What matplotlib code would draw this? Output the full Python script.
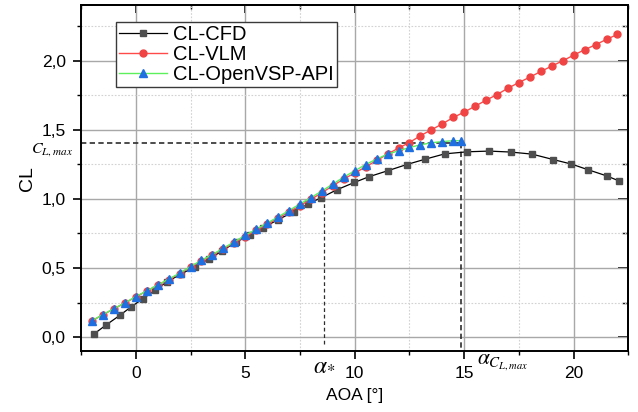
import matplotlib
matplotlib.use("Agg")
import matplotlib.pyplot as plt
from matplotlib.ticker import MultipleLocator, FuncFormatter

# Lift coefficient vs angle of attack
aoa_cfd = [-1.92, -1.35, -0.72, -0.20, 0.32, 0.87, 1.42, 2.05, 2.70, 3.35, 3.95,
           4.57, 5.22, 5.81, 6.50, 7.23, 7.85, 8.48, 9.18, 9.98, 10.64, 11.53,
           12.38, 13.23, 14.11, 15.15, 16.14, 17.13, 18.10, 19.06, 19.90, 20.66,
           21.50, 22.06]
cl_cfd = [0.022, 0.089, 0.159, 0.221, 0.277, 0.338, 0.400, 0.455, 0.510, 0.565, 0.625,
          0.687, 0.740, 0.791, 0.850, 0.909, 0.962, 1.010, 1.066, 1.119, 1.160, 1.205,
          1.249, 1.288, 1.326, 1.341, 1.346, 1.339, 1.324, 1.285, 1.252, 1.211,
          1.167, 1.131]

aoa_vlm = [-2.0, -1.5, -1.0, -0.5, 0.0, 0.5, 1.0, 1.5, 2.0, 2.5, 3.0, 3.5, 4.0, 4.5,
           5.0, 5.5, 6.0, 6.5, 7.0, 7.5, 8.0, 8.5, 9.0, 9.5, 10.0, 10.5, 11.0, 11.5,
           12.0, 12.5, 13.0, 13.5, 14.0, 14.5, 15.0, 15.5, 16.0, 16.5, 17.0, 17.5,
           18.0, 18.5, 19.0, 19.5, 20.0, 20.5, 21.0, 21.5, 22.0]
cl_vlm = [0.118, 0.162, 0.205, 0.246, 0.291, 0.333, 0.375, 0.417, 0.459, 0.506, 0.551,
          0.593, 0.638, 0.683, 0.728, 0.773, 0.816, 0.861, 0.905, 0.952, 0.997, 1.045,
          1.095, 1.145, 1.187, 1.232, 1.278, 1.324, 1.368, 1.408, 1.457, 1.500, 1.543,
          1.589, 1.628, 1.671, 1.714, 1.755, 1.801, 1.842, 1.881, 1.922, 1.961, 1.999,
          2.040, 2.079, 2.115, 2.154, 2.190]

aoa_vsp = [-2.0, -1.5, -1.0, -0.5, 0.0, 0.5, 1.0, 1.5, 2.0, 2.5, 3.0, 3.5, 4.0, 4.5,
           5.0, 5.5, 6.0, 6.5, 7.0, 7.5, 8.0, 8.5, 9.0, 9.5, 10.0, 10.5, 11.0, 11.5,
           12.0, 12.5, 13.0, 13.5, 14.0, 14.5, 14.85]
cl_vsp = [0.120, 0.164, 0.207, 0.248, 0.294, 0.335, 0.378, 0.420, 0.463, 0.511, 0.557,
          0.598, 0.644, 0.690, 0.737, 0.781, 0.825, 0.870, 0.916, 0.964, 1.009, 1.058,
          1.107, 1.158, 1.203, 1.249, 1.288, 1.324, 1.348, 1.372, 1.391, 1.406, 1.415,
          1.421, 1.421]

series_labels = ["CL-CFD", "CL-VLM", "CL-OpenVSP-API"]

# Reference markers
cl_max = 1.404
alpha_clmax = 14.85
alpha_star = 8.6
cl_star = 1.015

plt.rcParams["font.family"] = ["Liberation Sans", "DejaVu Sans"]
plt.rcParams["mathtext.fontset"] = "stix"

fig = plt.figure(figsize=(6.38, 4.12), dpi=100)
ax = fig.add_axes([0.127, 0.148, 0.858, 0.839])

ax.set_xlim(-2.5, 22.5)
ax.set_ylim(-0.1, 2.4)

ax.xaxis.set_major_locator(MultipleLocator(5))
ax.xaxis.set_minor_locator(MultipleLocator(2.5))
ax.yaxis.set_major_locator(MultipleLocator(0.5))
ax.yaxis.set_minor_locator(MultipleLocator(0.25))
ax.yaxis.set_major_formatter(FuncFormatter(lambda v, p: f"{v:.1f}".replace(".", ",")))

ax.grid(which="major", color="#a8a8a8", lw=1.0, ls="-", zorder=0)
ax.grid(which="minor", color="#d2d2d2", lw=0.8, ls=(0, (1.5, 1.5)), zorder=0)
ax.set_axisbelow(True)

for s in ax.spines.values():
    s.set_linewidth(1.4)
    s.set_color("black")

ax.tick_params(which="major", direction="out", length=6, width=1.2, labelsize=12.5, pad=5)
ax.tick_params(which="minor", direction="out", length=3, width=1.0)

# mirrored inward ticks on top and right
top = ax.secondary_xaxis("top")
top.xaxis.set_major_locator(MultipleLocator(5))
top.xaxis.set_minor_locator(MultipleLocator(2.5))
top.tick_params(which="major", direction="in", length=6, width=1.2, labeltop=False)
top.tick_params(which="minor", direction="in", length=3, width=1.0)
right = ax.secondary_yaxis("right")
right.yaxis.set_major_locator(MultipleLocator(0.5))
right.yaxis.set_minor_locator(MultipleLocator(0.25))
right.tick_params(which="major", direction="in", length=7, width=1.2, labelright=False)
right.tick_params(which="minor", direction="in", length=4, width=1.0)
for sec in (top, right):
    for s in sec.spines.values():
        s.set_linewidth(1.4)

ax.plot(aoa_cfd, cl_cfd, color="black", lw=0.9, marker="s", ms=4.5,
        mfc="#4f4f4f", mec="#4f4f4f", label=series_labels[0], zorder=3)
ax.plot(aoa_vlm, cl_vlm, color="#ff4a4a", lw=1.0, marker="o", ms=5,
        mfc="#f04444", mec="#f04444", label=series_labels[1], zorder=4)
ax.plot(aoa_vsp, cl_vsp, color="#5cf05c", lw=1.0, marker="^", ms=6,
        mfc="#1f6fe0", mec="#1f6fe0", label=series_labels[2], zorder=5)

# CL,max guides
dash_col = "#2e2e2e"
ax.plot([-2.5, alpha_clmax], [cl_max, cl_max], color=dash_col, lw=1.2,
        dashes=(3.2, 2.0), zorder=2)
ax.plot([alpha_clmax, alpha_clmax], [cl_max, -0.1], color=dash_col, lw=1.2,
        dashes=(3.2, 2.0), zorder=2)
ax.plot([alpha_star, alpha_star], [-0.05, cl_star], color=dash_col, lw=0.9,
        dashes=(3.0, 2.2), zorder=2)

ax.text(-2.85, 1.36, r"$C_{L,max}$", ha="right", va="center", fontsize=11.5,
        clip_on=False)
ax.text(alpha_star, -0.115, r"$\alpha_{*}$", ha="center", va="top", fontsize=17,
        clip_on=False)
ax.text(15.6, -0.11, r"$\alpha_{C_{L,max}}$", ha="left", va="top", fontsize=15.5,
        clip_on=False)

ax.set_xlabel("AOA [°]", fontsize=12.5, labelpad=5)
ax.set_ylabel("CL", fontsize=14, labelpad=4)

leg = ax.legend(loc="upper left", bbox_to_anchor=(0.064, 0.952), borderaxespad=0,
                fontsize=14.5, numpoints=1, handlelength=2.4, handletextpad=0.3,
                labelspacing=0.05, borderpad=0.15, fancybox=False, framealpha=1)
leg.get_frame().set_edgecolor("#3a3a3a")
leg.get_frame().set_linewidth(1.0)

fig.savefig("out.png", dpi=100)
